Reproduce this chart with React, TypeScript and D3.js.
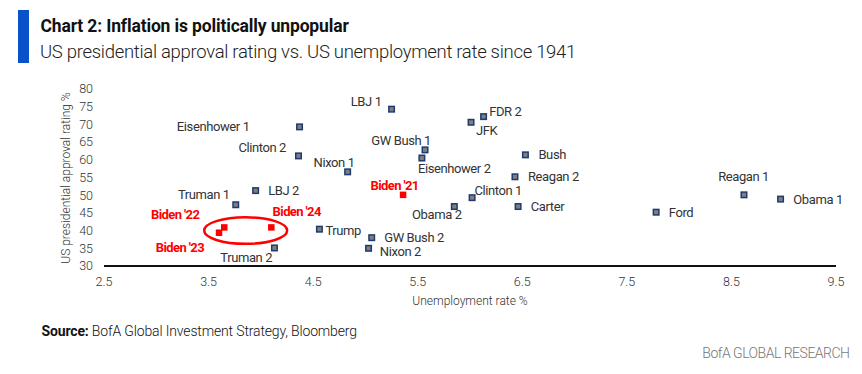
import React from "react";
import * as d3 from "d3";

const names = [
  "LBJ 1", "Eisenhower 1", "Clinton 2", "Nixon 1", "GW Bush 1", "Eisenhower 2",
  "LBJ 2", "Truman 1", "Trump", "GW Bush 2", "Nixon 2", "Truman 2",
  "FDR 2", "JFK", "Bush", "Reagan 2", "Clinton 1", "Obama 2", "Carter", "Ford",
  "Reagan 1", "Obama 1",
];
const unemployment = [
  5.25, 4.37, 4.36, 4.83, 5.57, 5.54,
  3.95, 3.76, 4.56, 5.06, 5.03, 4.13,
  6.13, 6.01, 6.53, 6.43, 6.02, 5.85, 6.46, 7.78,
  8.62, 8.97,
];
const approval = [
  74.3, 69.3, 61.1, 56.6, 62.8, 60.5,
  51.3, 47.3, 40.4, 38.0, 35.0, 35.1,
  72.2, 70.6, 61.4, 55.2, 49.3, 46.8, 46.8, 45.2,
  50.1, 48.9,
];

const bidenNames = ["Biden '21", "Biden '22", "Biden '23", "Biden '24"];
const bidenUnemployment = [5.36, 3.65, 3.6, 4.1];
const bidenApproval = [50.1, 40.9, 39.4, 40.9];

const xTicks = [2.5, 3.5, 4.5, 5.5, 6.5, 7.5, 8.5, 9.5];
const yTicks = [30, 35, 40, 45, 50, 55, 60, 65, 70, 75, 80];

// label placement (layout only): [dx, dy, anchor]
const labelPlace: Record<string, [number, number, string]> = {
  "LBJ 1": [-10, -8, "end"],
  "Eisenhower 1": [-50, 0, "end"],
  "Clinton 2": [-12.5, -8, "end"],
  "Nixon 1": [7, -9, "end"],
  "GW Bush 1": [6, -9, "end"],
  "Eisenhower 2": [-4, 10, "start"],
  "LBJ 2": [12.5, 0, "start"],
  "Truman 1": [-6, -10, "end"],
  "Trump": [6, 1, "start"],
  "GW Bush 2": [12.5, 0, "start"],
  "Nixon 2": [11.3, 3.4, "start"],
  "Truman 2": [-2.3, 9.3, "end"],
  "FDR 2": [5.6, -5, "start"],
  "JFK": [5, 8.4, "start"],
  "Bush": [13, 0, "start"],
  "Reagan 2": [13, 0, "start"],
  "Clinton 1": [2.3, -7.7, "start"],
  "Obama 2": [7.3, 8.3, "end"],
  "Carter": [12.7, 0, "start"],
  "Ford": [12.6, 0, "start"],
  "Reagan 1": [-0.4, -18, "middle"],
  "Obama 1": [12.7, 0, "start"],
  "Biden '21": [15.6, -9.5, "end"],
  "Biden '22": [-25, -13, "end"],
  "Biden '23": [-15, 14.6, "end"],
  "Biden '24": [1.3, -16, "start"],
};

const FONT = "Roboto, 'Noto Sans', sans-serif";

export default function App() {
  const W = 862;
  const H = 374;
  const x = d3.scaleLinear().domain([2.5, 9.5]).range([104, 836]);
  const y = d3.scaleLinear().domain([30, 80]).range([266, 89]);

  const pts = names.map((n, i) => ({ n, u: unemployment[i], a: approval[i] }));
  const bpts = bidenNames.map((n, i) => ({ n, u: bidenUnemployment[i], a: bidenApproval[i] }));

  // ellipse around Biden '22-'24
  const exs = bpts.slice(1).map((p) => x(p.u));
  const eys = bpts.slice(1).map((p) => y(p.a));
  const ecx = (d3.min(exs)! + d3.max(exs)!) / 2 + 0.5;
  const ecy = (d3.min(eys)! + d3.max(eys)!) / 2 + 0.5;

  const gs = 5.5;
  const rs = 6.5;

  return (
    <div style={{ position: "absolute", left: 0, top: 0 }}>
      <svg width={W} height={H} style={{ display: "block", background: "#fff" }} fontFamily={FONT}>
        <rect x={18} y={10} width={11} height={53} fill="#0a52c9" />
        <text x={40.5} y={32} fontSize={17.5} fontWeight={700} fill="#111" letterSpacing={-0.15}>
          Chart 2: Inflation is politically unpopular
        </text>
        <text x={40} y={58} fontSize={18.5} fontWeight={300} fill="#222" letterSpacing={-0.3}>
          US presidential approval rating vs. US unemployment rate since 1941
        </text>

        {/* y ticks */}
        {yTicks.map((t) => (
          <text key={t} x={93} y={y(t)} dy="0.35em" textAnchor="end" fontSize={12.5} fill="#333" fontWeight={300}>
            {t}
          </text>
        ))}
        {xTicks.map((t) => (
          <text key={t} x={x(t)} y={282} dy="0.35em" textAnchor="middle" fontSize={12.5} fill="#333" fontWeight={300}>
            {t}
          </text>
        ))}
        <line x1={x(2.5)} x2={x(9.5)} y1={y(30)} y2={y(30)} stroke="#111" strokeWidth={2} />

        <text
          transform={`translate(66,178) rotate(-90)`}
          textAnchor="middle"
          dy="0.35em"
          fontSize={12}
          fill="#333"
          fontWeight={300}
        >
          US presidential approval rating %
        </text>
        <text x={470} y={301} dy="0.35em" textAnchor="middle" fontSize={12} fill="#333" fontWeight={300}>
          Unemployment rate %
        </text>

        {/* points */}
        {pts.map((p) => (
          <rect
            key={p.n}
            x={x(p.u) - gs / 2}
            y={y(p.a) - gs / 2}
            width={gs}
            height={gs}
            fill="#7f7f7f"
            stroke="#1f3a70"
            strokeWidth={1.5}
          />
        ))}
        {pts.map((p) => {
          const [dx, dy, anchor] = labelPlace[p.n];
          return (
            <text
              key={"l" + p.n}
              x={x(p.u) + dx}
              y={y(p.a) + dy}
              dy="0.35em"
              textAnchor={anchor as any}
              fontSize={13}
              letterSpacing={-0.4}
              fill="#333"
              fontWeight={400}
            >
              {p.n}
            </text>
          );
        })}

        {bpts.map((p) => (
          <rect key={p.n} x={x(p.u) - rs / 2} y={y(p.a) - rs / 2} width={rs} height={rs} fill="#ff0000" />
        ))}
        {bpts.map((p) => {
          const [dx, dy, anchor] = labelPlace[p.n];
          return (
            <text
              key={"l" + p.n}
              x={x(p.u) + dx}
              y={y(p.a) + dy}
              dy="0.35em"
              textAnchor={anchor as any}
              fontSize={13}
              letterSpacing={-0.6}
              fill="#ff0000"
              fontWeight={700}
            >
              {p.n}
            </text>
          );
        })}
        <ellipse cx={ecx} cy={ecy} rx={41.5} ry={13.3} fill="none" stroke="#ff0000" strokeWidth={2.5} />

        <text x={41.5} y={331.5} dy="0.35em" fontSize={14} fill="#111" letterSpacing={-0.15}>
          <tspan fontWeight={700}>Source:</tspan>
          <tspan fontWeight={300}> BofA Global Investment Strategy, Bloomberg</tspan>
        </text>
        <text x={849.5} y={353} dy="0.35em" textAnchor="end" fontSize={14} fill="#777" fontWeight={300} letterSpacing={-0.5}>
          BofA GLOBAL RESEARCH
        </text>
      </svg>
    </div>
  );
}
